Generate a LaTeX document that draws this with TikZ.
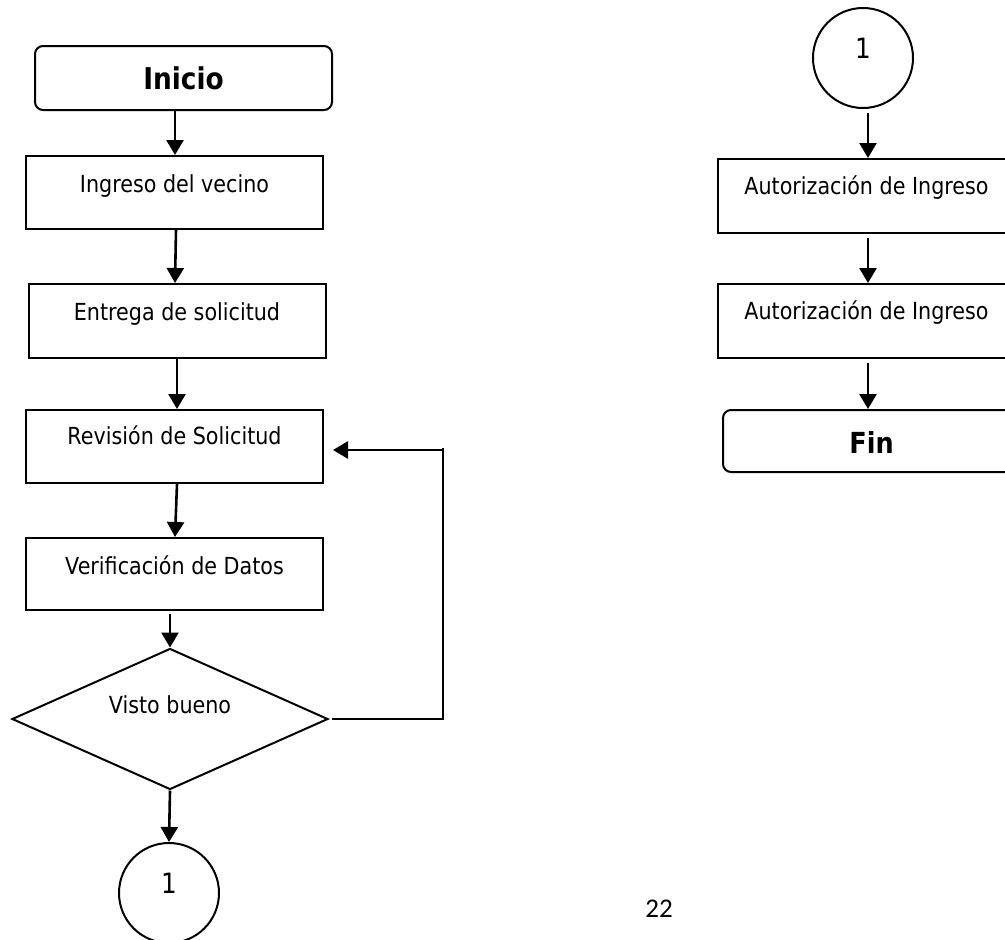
\documentclass[tikz,border=0pt]{standalone}
\usepackage{fontspec}
\setmainfont[FakeStretch=0.88]{DejaVu Sans}
\newfontfamily\pagefont{Carlito}
\usetikzlibrary{shapes.geometric,arrows.meta}
\begin{document}
\begin{tikzpicture}[x=1pt,y=-1pt,
  every node/.style={font=\fontsize{23.5}{28}\selectfont},
  procbox/.style={draw,line width=2pt,rectangle,inner sep=0pt,minimum width=297pt,
     text height=36pt,text depth=37pt,anchor=north},
  termbox/.style={draw,line width=2pt,rectangle,rounded corners=8pt,inner sep=0pt,minimum width=297pt,
     font=\fontsize{30}{34}\selectfont\bfseries,anchor=north},
  connector/.style={draw,circle,line width=2pt,inner sep=0pt,minimum size=100pt,
     text height=20pt,text depth=20pt,font=\fontsize{28}{32}\selectfont},
  decision/.style={draw,diamond,aspect=2.24,line width=2pt,inner sep=0pt,minimum width=316pt,minimum height=141pt,
     text height=17pt,text depth=29pt},
  flow/.style={line width=2.6pt,-{Triangle[width=17pt,length=15pt]}},
  plain/.style={line width=2pt}]
\useasboundingbox (0,0) rectangle (1005,940);
\clip (0,0) rectangle (1005,940);

% left column
\node[termbox,text height=43pt,text depth=21pt] (ini) at (183.5,45) {Inicio};
\node[procbox] (ing) at (174.5,155) {Ingreso del vecino};
\node[procbox,text height=36pt,text depth=38pt] (ent) at (177,283) {Entrega de solicitud};
\node[procbox,text height=34pt,text depth=39pt] (rev) at (174.5,409) {Revisión de Solicitud};
\node[procbox,text height=36pt,text depth=36pt] (ver) at (174.5,537) {Verificación de Datos};
\node[decision] (vb) at (170,719) {Visto bueno};
\node[connector] (c1) at (169,893) {1};

% right column
\node[connector] (c2) at (863,58) {1};
\node[procbox,text height=35pt,text depth=39pt] (aut1) at (866.5,158) {Autorización de Ingreso};
\node[procbox,text height=35pt,text depth=39pt] (aut2) at (866.5,283) {Autorización de Ingreso};
\node[termbox,font=\fontsize{29}{33}\selectfont\bfseries,text height=43pt,text depth=19pt] (fin) at (871.5,409) {Fin};

% page number
\node[anchor=base,font=\pagefont\fontsize{27}{30}\selectfont] (pg) at (659,917) {22};

% connectors
\draw[flow] (ini.south -| 175,0) -- (ing.north -| 175,0);
\draw[flow] (ing.south -| 176,0) -- (ent.north -| 175,0);
\draw[flow] (ent.south -| 177,0) -- (rev.north -| 177,0);
\draw[flow] (rev.south -| 177,0) -- (ver.north -| 175,0);
\draw[flow] (ver.south -| vb.north) ++(0,3) -- (vb.north);
\draw[flow] (vb.south) -- (c1.north);

\coordinate (lp) at (443,450);
\coordinate (lpend) at (333,450);
\draw[plain] ([xshift=3pt]vb.east) -| ([yshift=2pt]lp);
\draw[flow] (lp) -- (lpend);

\draw[flow] ([yshift=-4pt]c2.south -| 868,0) -- (aut1.north -| 868,0);
\draw[flow] ([yshift=-4pt]aut1.south -| 868,0) -- (aut2.north -| 868,0);
\draw[flow] ([yshift=-4pt]aut2.south -| 868,0) -- (fin.north -| 868,0);
\end{tikzpicture}
\end{document}
